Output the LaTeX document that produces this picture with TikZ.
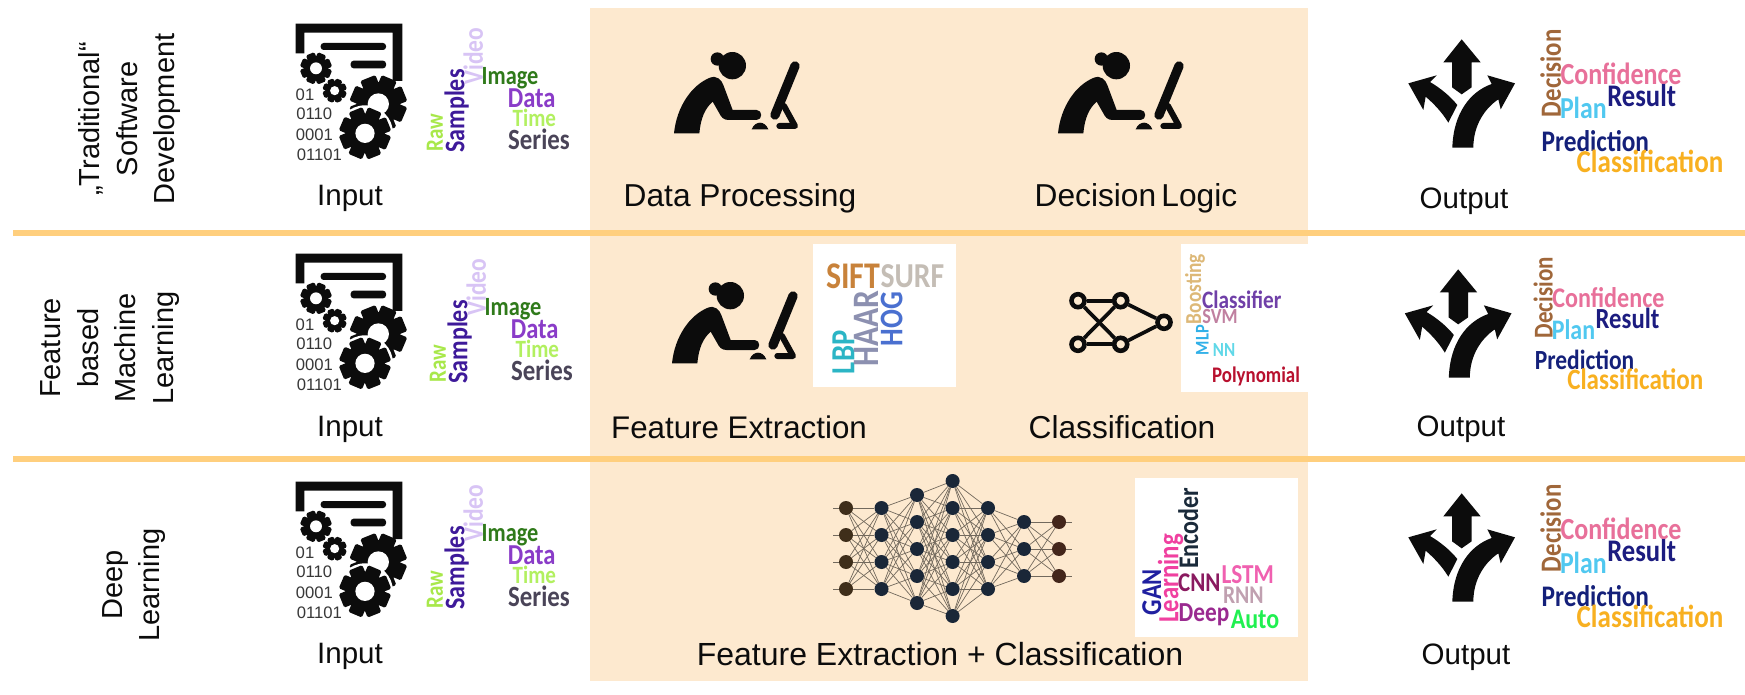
\documentclass[tikz,border=0pt]{standalone}
\usepackage{fontspec}
\setmainfont{Liberation Sans}
\newfontfamily\wcf{Carlito}
\definecolor{bandbg}{HTML}{FDE9CF}
\definecolor{bandline}{HTML}{FFCF7E}
\definecolor{ink}{HTML}{0C0C0C}
\definecolor{netbrown}{HTML}{3F2E1A}
\definecolor{netblue}{HTML}{1A2738}
\definecolor{netred}{HTML}{43261B}
\pgfdeclarelayer{top}
\pgfsetlayers{main,top}
\newcount\wordcnt
\tikzset{
  wordnode/.style={inner sep=0pt,outer sep=0pt,transform shape},
  bitnode/.style={wordnode,font=\fontsize{50}{50}\selectfont,text=black!78},
  sidelabel/.style={font=\fontsize{29.5}{32}\selectfont,anchor=base,text=ink,inner sep=0pt},
  midlabel/.style={font=\fontsize{31.7}{36}\selectfont,anchor=base,text=ink,inner sep=0pt},
  rowlabel/.style={font=\fontsize{29}{37.5}\selectfont,rotate=90,align=center,text=ink,inner sep=0pt},
  bandrule/.style={line width=5.5pt,bandline},
  ringnode/.style={circle,draw=ink,fill=bandbg,line width=4.6pt,minimum size=13pt,inner sep=0pt},
  ringedge/.style={draw=ink,line width=3.7pt},
  netnode/.style={circle,minimum size=14pt,inner sep=0pt},
  netedge/.style={draw=black!55!bandbg,line width=0.7pt},
}
% word of a cloud: centre x, y, rotation, length, colour (hex), text
\newcommand{\wordc}[6]{\global\advance\wordcnt by 1
  \definecolor{wordcol}{HTML}{#5}
  \node[wordnode,rotate=#3,text=wordcol,name=word\the\wordcnt] at (#1,#2) {\resizebox{#4pt}{!}{\scalebox{1}[1.18]{\wcf\bfseries #6}}};}
% gear: centre x, y, radius
\newcommand{\gearshape}[3]{
  \fill[ink] (#1,#2) circle[radius={0.78*#3}];
  \foreach \a in {0,45,...,315}{
    \fill[ink,rotate around={\a+22:(#1,#2)},rounded corners=1.5pt]
      ({#1-0.29*#3},#2) rectangle ({#1+0.29*#3},{#2-#3});
  }
  \fill[white] (#1,#2) circle[radius={0.38*#3}];
}
\newcommand{\inputicon}[2]{
 \begin{scope}[shift={(#1,#2)},scale=1/3]
  \fill[ink] (137,71) -- (457,71) -- (457,243) -- (428,243) -- (428,98) -- (163,98) -- (163,160) -- (137,160) -- cycle;
  \fill[ink,rounded corners=3pt] (212,129) rectangle (408,150);
  \fill[ink,rounded corners=3pt] (302,182) rectangle (408,205);
  \gearshape{198}{205}{47}
  \gearshape{254}{272}{36}
  \gearshape{385}{312}{84}
  \fill[white] (345,400) circle[radius=84];
  \gearshape{345}{400}{76}
  \global\advance\wordcnt by 1
  \node[bitnode,name=bit\the\wordcnt a] at (165,285) {01};
  \node[bitnode,name=bit\the\wordcnt b] at (193,340) {0110};
  \node[bitnode,name=bit\the\wordcnt c] at (193,403) {0001};
  \node[bitnode,name=bit\the\wordcnt d] at (208,463) {01101};
 \end{scope}
}
\newcommand{\inputcloud}[2]{
 \begin{scope}[shift={(#1,#2)},scale=1/3]
  \wordc{160}{138}{90}{170}{D8C4F5}{Video}
  \wordc{110}{303}{90}{250}{3E1A9A}{Samples}
  \wordc{45}{368}{90}{113}{A8E84A}{Raw}
  \wordc{270}{205}{0}{170}{2F7A1A}{Image}
  \wordc{335}{265}{0}{143}{8A3CC8}{Data}
  \wordc{343}{325}{0}{130}{B2F060}{Time}
  \wordc{357}{388}{0}{185}{4A4458}{Series}
 \end{scope}
}
\newcommand{\personicon}[2]{
 \begin{scope}[shift={(#1,#2)},scale=1/3]
  \fill[ink] (217,47) circle[radius=41];
  \fill[ink] (172,27) circle[radius=20];
  \fill[ink] (42,250) .. controls (50,170) and (95,105) .. (150,83) .. controls (170,75) and (185,90) .. (190,105) -- (218,180) -- (290,180) .. controls (308,180) and (308,210) .. (290,210) -- (205,210) .. controls (190,210) and (183,200) .. (178,190) -- (158,155) .. controls (135,175) and (122,205) .. (118,250) -- cycle;
  \draw[ink,line width=9.3pt,line cap=round] (405,48) -- (345,195);
  \draw[ink,line width=6pt,line cap=round,line join=round] (372,168) -- (405,228) -- (358,228);
  \fill[ink] (275,238) .. controls (280,225) and (290,218) .. (300,218) .. controls (310,218) and (320,225) .. (325,238) -- cycle;
 \end{scope}
}
\newcommand{\outputicon}[2]{
 \begin{scope}[shift={(#1,#2)},scale=1/3]
  \fill[ink] (635,118) -- (692,187) -- (665,187) -- (665,262) -- (635,283) -- (606,262) -- (606,187) -- (580,187) -- cycle;
  \fill[ink] (475,250) -- (560,226) -- (540,246) .. controls (572,265) and (600,288) .. (622,315) -- (595,368) .. controls (575,335) and (550,310) .. (527,290) -- (520,330) -- cycle;
  \fill[ink] (795,250) -- (712,226) -- (725,252) .. controls (660,275) and (610,340) .. (607,443) -- (670,443) .. controls (670,375) and (705,325) .. (745,298) -- (752,328) -- cycle;
 \end{scope}
}
% output cloud: x, y, scale
\newcommand{\outputcloud}[3]{
 \begin{scope}[shift={(#1,#2)},scale=#3/3]
  \wordc{62}{190}{90}{262}{A0673A}{Decision}
  \wordc{273}{190}{0}{363}{E8709A}{Confidence}
  \wordc{335}{258}{0}{206}{1C1C80}{Result}
  \wordc{160}{295}{0}{140}{50C8F0}{Plan}
  \wordc{196}{392}{0}{322}{14207A}{Prediction}
  \wordc{360}{455}{0}{440}{F8B020}{Classification}
 \end{scope}
}
\begin{document}
\begin{tikzpicture}[x=1pt,y=-1pt]
\useasboundingbox (0,0) rectangle (1745,695);
\fill[white] (0,0) rectangle (1745,695);
\fill[bandbg] (590,8) rectangle (1308,681);
% white cloud boxes
\fill[white] (813,244) rectangle (956,387);
\fill[white] (1181,244) rectangle (1308,392);
\fill[white] (1135,478) rectangle (1298,637);
% rules
\coordinate (r1a) at (13,233); \coordinate (r1b) at (1745,233);
\coordinate (r2a) at (13,459); \coordinate (r2b) at (1745,459);
\draw[bandrule] (r1a) -- (r1b);
\draw[bandrule] (r2a) -- (r2b);
% row labels
\node[rowlabel] (rowA) at (130,119) {„Traditional“\\Software\\Development};
\node[rowlabel] (rowB) at (110,348) {Feature\\based\\Machine\\Learning};
\node[rowlabel] (rowC) at (134,585) {Deep\\Learning};
% inputs
\inputicon{250}{0}
\inputicon{250}{230}
\inputicon{250}{458}
\inputcloud{420}{10}
\inputcloud{423}{241}
\inputcloud{420}{467}
\node[sidelabel] (inA) at (350,206) {Input};
\node[sidelabel] (inB) at (350,436) {Input};
\node[sidelabel] (inC) at (350,663) {Input};
% persons
\personicon{660}{50}
\personicon{1044}{50}
\personicon{658}{280}
\node[midlabel] (tA) at (740,207) {Data Processing};
\node[midlabel] (tB) at (1136,207) {Decision\,Logic};
\node[midlabel,font=\fontsize{31.3}{36}\selectfont] (tC) at (739,438) {Feature Extraction};
\node[midlabel] (tD) at (1122,438) {Classification};
\node[midlabel,font=\fontsize{32}{36}\selectfont] (tE) at (940,665) {Feature Extraction + Classification};
% feature cloud
\begin{scope}[shift={(810,240)},scale=1/3]
  \wordc{130}{108}{0}{162}{C8823A}{SIFT}
  \wordc{307}{108}{0}{191}{C4BDB5}{SURF}
  \wordc{100}{337}{90}{130}{2BB5C5}{LBP}
  \wordc{170}{265}{90}{228}{8C90B0}{HAAR}
  \wordc{245}{238}{90}{163}{4A70D0}{HOG}
\end{scope}
% classification cloud
\begin{scope}[shift={(1175,240)},scale=1/3]
  \wordc{60}{147}{90}{210}{DDB877}{Boosting}
  \wordc{200}{180}{0}{238}{7040A8}{Classifier}
  \wordc{135}{230}{0}{106}{C080A0}{SVM}
  \wordc{82}{300}{90}{90}{30B0E8}{MLP}
  \wordc{147}{330}{0}{67}{60D8E8}{NN}
  \wordc{243}{408}{0}{263}{B8102E}{Polynomial}
\end{scope}
% deep cloud
\begin{scope}[shift={(1130,475)},scale=1/3]
  \wordc{175}{160}{90}{243}{1A2A3A}{Encoder}
  \wordc{122}{310}{90}{265}{F040A0}{Learning}
  \wordc{65}{352}{90}{139}{2020A0}{GAN}
  \wordc{208}{322}{0}{127}{8A1A60}{CNN}
  \wordc{353}{300}{0}{157}{F060B0}{LSTM}
  \wordc{340}{362}{0}{122}{C0A0B0}{RNN}
  \wordc{222}{420}{0}{152}{9A2A90}{Deep}
  \wordc{375}{432}{0}{145}{20F050}{Auto}
\end{scope}
% small network
\begin{pgfonlayer}{top}
  \node[ringnode] (sa) at (1078,300.7) {};
  \node[ringnode] (sb) at (1120.7,300.7) {};
  \node[ringnode] (sc) at (1078,344.3) {};
  \node[ringnode] (sd) at (1120.7,344.3) {};
  \node[ringnode] (se) at (1164,322.3) {};
\end{pgfonlayer}
\draw[ringedge] (sa) -- (sb);
\draw[ringedge] (sc) -- (sd);
\draw[ringedge] (sa) -- (sd);
\draw[ringedge] (sc) -- (sb);
\draw[ringedge] (sb) -- (se);
\draw[ringedge] (sd) -- (se);
% deep network
\begin{pgfonlayer}{top}
\foreach \l/\x/\n/\ys/\col in {1/846/4/508/netbrown,2/881.5/4/508/netblue,3/917/5/495/netblue,4/952.6/6/481/netblue,5/988/4/508/netblue,6/1024/3/522/netblue,7/1059/3/522/netred}{
  \foreach \i in {1,...,\n}{
    \node[netnode,fill=\col] (n\l-\i) at (\x,{\ys+(\i-1)*27}) {};
  }
}
\end{pgfonlayer}
\foreach \a/\na/\b/\nb in {1/4/2/4,2/4/3/5,3/5/4/6,4/6/5/4,5/4/6/3,6/3/7/3}{
  \foreach \i in {1,...,\na}{
    \foreach \j in {1,...,\nb}{
      \draw[netedge] (n\a-\i) -- (n\b-\j);
    }
  }
}
\foreach \i/\y in {1/508,2/535,3/562,4/589}{
  \coordinate (sl\i) at (833,\y);
  \draw[netedge] (sl\i) -- (n1-\i);
}
\foreach \i/\y in {1/522,2/549,3/576}{
  \coordinate (sr\i) at (1072,\y);
  \draw[netedge] (n7-\i) -- (sr\i);
}
% outputs
\outputicon{1250}{0}
\outputicon{1246.5}{230}
\outputicon{1250}{454}
\outputcloud{1530}{10}{1}
\outputcloud{1524}{239}{0.927}
\outputcloud{1530}{465}{1}
\node[sidelabel] (outA) at (1464,208) {Output};
\node[sidelabel] (outB) at (1461,436) {Output};
\node[sidelabel] (outC) at (1466,664) {Output};
\end{tikzpicture}
\end{document}
